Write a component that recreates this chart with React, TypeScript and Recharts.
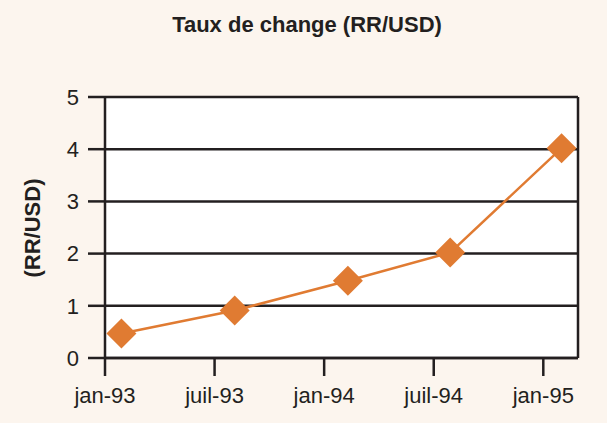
import { LineChart, Line, XAxis, YAxis, CartesianGrid, ReferenceLine } from 'recharts';

// months counted from jan-93
const MONTHS = [0.9, 7.1, 13.3, 18.9, 25.0];
const RATES = [0.47, 0.91, 1.48, 2.02, 4.02];
const TICK_MONTHS = [0, 6, 12, 18, 24];
const TICK_LABELS = ['jan-93', 'juil-93', 'jan-94', 'juil-94', 'jan-95'];
const Y_TICKS = [0, 1, 2, 3, 4, 5];
const X_MAX = 25.9;

const INK = '#231f20';
const ORANGE = '#e07b32';
const CREAM = '#fcf5ee';
const FONT = '"Liberation Sans", Arial, Helvetica, sans-serif';

const data = MONTHS.map((m, i) => ({ month: m, rate: RATES[i] }));

function Diamond(props: any) {
  const { cx, cy, index } = props;
  if (cx == null || cy == null) return <g key={index} />;
  const r = 15;
  return (
    <polygon
      key={index}
      points={`${cx},${cy - r} ${cx + r},${cy} ${cx},${cy + r} ${cx - r},${cy}`}
      fill={ORANGE}
    />
  );
}

export default function App() {
  const line = { stroke: INK, strokeWidth: 2.5 };
  return (
    <div
      style={{
        position: 'absolute',
        top: 0,
        left: 0,
        width: 607,
        height: 423,
        background: CREAM,
        fontFamily: FONT,
        color: INK,
      }}
    >
      <div
        style={{
          position: 'absolute',
          top: 12,
          left: 0,
          width: 614,
          textAlign: 'center',
          fontWeight: 'bold',
          fontSize: 22,
        }}
      >
        Taux de change (RR/USD)
      </div>
      <div
        style={{
          position: 'absolute',
          left: 33,
          top: 228,
          transform: 'translate(-50%, -50%) rotate(-90deg)',
          fontWeight: 'bold',
          fontSize: 22,
          whiteSpace: 'nowrap',
        }}
      >
        (RR/USD)
      </div>
      <LineChart
        width={607}
        height={423}
        data={data}
        margin={{ top: 97, right: 29, left: 0, bottom: 0 }}
      >
        <CartesianGrid vertical={false} stroke={INK} strokeWidth={2.5} fill="#ffffff" fillOpacity={1} />
        <XAxis
          type="number"
          dataKey="month"
          domain={[0, X_MAX]}
          ticks={TICK_MONTHS}
          tickFormatter={(v) => TICK_LABELS[TICK_MONTHS.indexOf(v)]}
          height={65}
          tickSize={18}
          tickMargin={11}
          axisLine={line}
          tickLine={line}
          tick={{ fill: INK, fontSize: 22, fontFamily: FONT }}
          allowDataOverflow
        />
        <YAxis
          type="number"
          domain={[0, 5]}
          ticks={Y_TICKS}
          width={105}
          tickSize={17}
          tickMargin={9}
          axisLine={line}
          tickLine={line}
          tick={{ fill: INK, fontSize: 22, fontFamily: FONT }}
        />
        <ReferenceLine x={X_MAX} stroke={INK} strokeWidth={2.5} />
        <Line
          dataKey="rate"
          stroke={ORANGE}
          strokeWidth={2.5}
          dot={Diamond}
          activeDot={false}
          isAnimationActive={false}
        />
      </LineChart>
    </div>
  );
}
